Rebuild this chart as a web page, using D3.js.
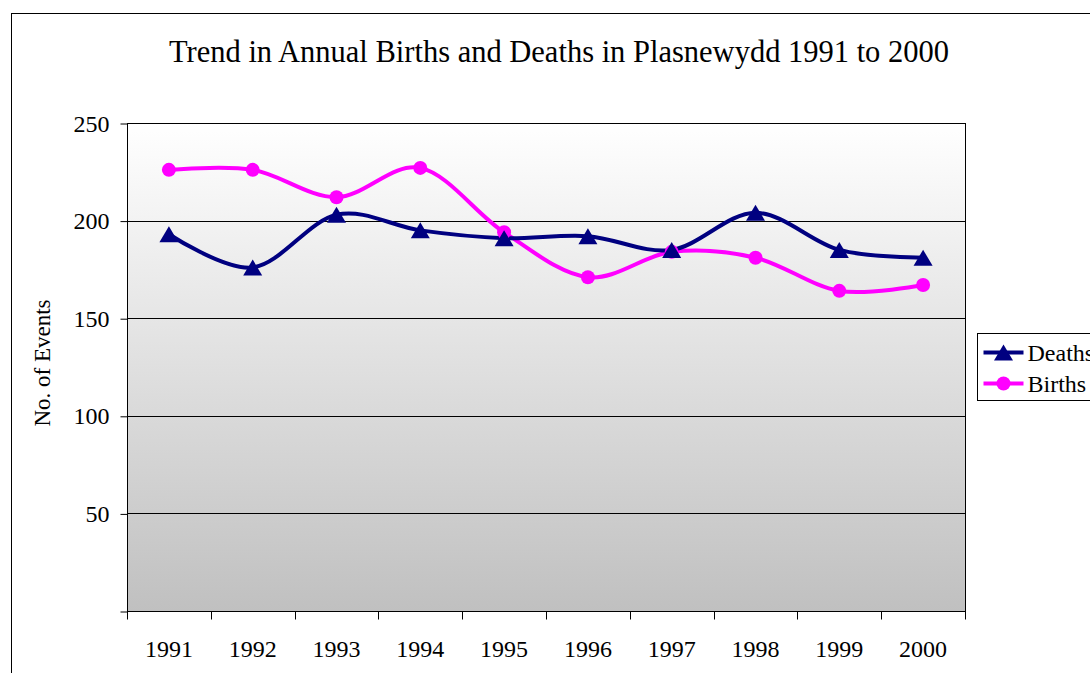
<!DOCTYPE html>
<html>
<head>
<meta charset="utf-8">
<script src="https://cdn.jsdelivr.net/npm/d3@7"></script>
<style>
  body { margin: 0; background: #fff; overflow: hidden; }
  text { font-family: "Liberation Serif", "Times New Roman", serif; fill: #000; }
</style>
</head>
<body>
<svg id="chart" width="1090" height="673"></svg>
<script>
// chart data
const years = ['1991', '1992', '1993', '1994', '1995', '1996', '1997', '1998', '1999', '2000'];
const deaths = [193, 176, 203, 195, 191, 192, 185, 204, 185, 181];
const births = [226, 226, 212, 227, 194, 171, 184, 181, 164, 167];
const yTicks = [50, 100, 150, 200, 250];

const svg = d3.select('#chart');
const plot = { left: 127, right: 965, top: 123, bottom: 611 };

// outer chart frame
svg.append('rect')
  .attr('x', 11.5).attr('y', 13.5)
  .attr('width', 1200).attr('height', 800)
  .attr('fill', '#fff').attr('stroke', '#000').attr('stroke-width', 1);

// background gradient of the plot area
const grad = svg.append('defs').append('linearGradient')
  .attr('id', 'bg').attr('x1', 0).attr('y1', 0).attr('x2', 0).attr('y2', 1);
grad.append('stop').attr('offset', '0%').attr('stop-color', '#ffffff');
grad.append('stop').attr('offset', '100%').attr('stop-color', '#c0c0c0');

const x = d3.scaleBand()
  .domain(years)
  .range([plot.left, plot.right]);

const y = d3.scaleLinear()
  .domain([0, 250])
  .range([plot.bottom, plot.top]);

svg.append('rect')
  .attr('x', plot.left).attr('y', plot.top)
  .attr('width', plot.right - plot.left).attr('height', plot.bottom - plot.top)
  .attr('fill', 'url(#bg)');

// gridlines
svg.append('g')
  .selectAll('line')
  .data(yTicks.slice(0, -1))
  .enter()
  .append('line')
  .attr('x1', plot.left).attr('x2', plot.right)
  .attr('y1', d => Math.round(y(d)) + 0.5).attr('y2', d => Math.round(y(d)) + 0.5)
  .attr('stroke', '#000').attr('stroke-width', 1);

// plot border
svg.append('rect')
  .attr('x', plot.left + 0.5).attr('y', plot.top + 0.5)
  .attr('width', plot.right - plot.left).attr('height', plot.bottom - plot.top)
  .attr('fill', 'none').attr('stroke', '#000').attr('stroke-width', 1);

// y axis
const yAxis = svg.append('g')
  .attr('transform', 'translate(' + (plot.left + 0.5) + ',0.5)')
  .call(d3.axisLeft(y).tickValues([0].concat(yTicks)).tickSize(7).tickPadding(11)
    .tickFormat(d => d === 0 ? '' : d));
yAxis.select('.domain').remove();
yAxis.selectAll('line').attr('stroke', '#000');
yAxis.selectAll('text').style('font-size', '24px').attr('font-family', null);

// x axis: ticks at category boundaries
const xAxis = svg.append('g')
  .attr('transform', 'translate(0,' + (plot.bottom + 0.5) + ')');
xAxis.append('line')
  .attr('x1', plot.left).attr('x2', plot.right)
  .attr('stroke', '#000');
xAxis.selectAll('.tk')
  .data(years.concat(['end']))
  .enter()
  .append('line')
  .attr('class', 'tk')
  .attr('x1', (d, i) => Math.round(i < years.length ? x(d) : plot.right) + 0.5)
  .attr('x2', (d, i) => Math.round(i < years.length ? x(d) : plot.right) + 0.5)
  .attr('y1', 0).attr('y2', 8)
  .attr('stroke', '#000');
xAxis.selectAll('.lbl')
  .data(years)
  .enter()
  .append('text')
  .attr('class', 'lbl')
  .attr('x', d => x(d) + x.bandwidth() / 2)
  .attr('y', 45)
  .attr('text-anchor', 'middle')
  .style('font-size', '24px')
  .text(d => d);

// lines
const cx = d => x(d) + x.bandwidth() / 2;
const line = d3.line()
  .x((d, i) => cx(years[i]))
  .y(d => y(d))
  .curve(d3.curveCatmullRom.alpha(0));

svg.append('path')
  .datum(births)
  .attr('d', line)
  .attr('fill', 'none')
  .attr('stroke', '#ff00ff')
  .attr('stroke-width', 4);

svg.append('path')
  .datum(deaths)
  .attr('d', line)
  .attr('fill', 'none')
  .attr('stroke', '#000080')
  .attr('stroke-width', 4);

// triangle marker centred on its bounding box (like Excel)
const triPath = 'M0,-8L9.5,8L-9.5,8Z';

svg.append('g')
  .selectAll('circle')
  .data(births)
  .enter()
  .append('circle')
  .attr('cx', (d, i) => cx(years[i]))
  .attr('cy', d => y(d))
  .attr('r', 7)
  .attr('fill', '#ff00ff');

svg.append('g')
  .selectAll('path')
  .data(deaths)
  .enter()
  .append('path')
  .attr('d', triPath)
  .attr('transform', (d, i) => 'translate(' + cx(years[i]) + ',' + y(d) + ')')
  .attr('fill', '#000080');

// title
svg.append('text')
  .attr('x', 559).attr('y', 62)
  .attr('text-anchor', 'middle')
  .style('font-size', '30.5px')
  .text('Trend in Annual Births and Deaths in Plasnewydd 1991 to 2000');

// y axis title
svg.append('text')
  .attr('transform', 'translate(50,363) rotate(-90)')
  .attr('text-anchor', 'middle')
  .style('font-size', '23px')
  .text('No. of Events');

// legend (cut off at the right edge, as in the original)
const legend = svg.append('g').attr('transform', 'translate(977.5,333.5)');
legend.append('rect')
  .attr('width', 140).attr('height', 67)
  .attr('fill', '#fff').attr('stroke', '#000');
const items = [
  { name: 'Deaths', color: '#000080', shape: 'tri' },
  { name: 'Births', color: '#ff00ff', shape: 'circle' }
];
items.forEach((it, i) => {
  const g = legend.append('g').attr('transform', 'translate(0,' + (19 + i * 31) + ')');
  g.append('line')
    .attr('x1', 6).attr('x2', 46)
    .attr('stroke', it.color).attr('stroke-width', 4);
  if (it.shape === 'tri') {
    g.append('path').attr('d', triPath).attr('transform', 'translate(26,0)').attr('fill', it.color);
  } else {
    g.append('circle').attr('cx', 26).attr('r', 7).attr('fill', it.color);
  }
  g.append('text')
    .attr('x', 50).attr('y', 8)
    .style('font-size', '24px')
    .text(it.name);
});
</script>
</body>
</html>
